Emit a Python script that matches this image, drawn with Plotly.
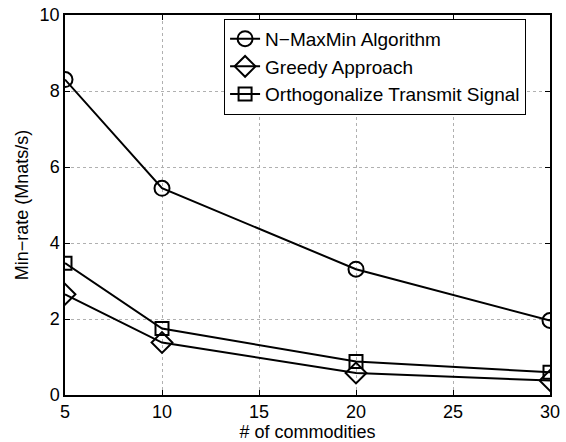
import plotly.graph_objects as go

x_vals = [5, 10, 20, 30]
nmaxmin = [8.30, 5.44, 3.31, 1.96]
greedy = [2.65, 1.38, 0.58, 0.38]
orthogonal = [3.47, 1.75, 0.88, 0.60]
names = ["N\u2212MaxMin Algorithm", "Greedy Approach", "Orthogonalize Transmit Signal"]
x_ticks = [5, 10, 15, 20, 25, 30]
y_ticks = [0, 2, 4, 6, 8, 10]

FONT = "Liberation Sans, Arial, sans-serif"

fig = go.Figure()
for ys, name, sym, sz in [(nmaxmin, names[0], "circle-open", 15),
                          (greedy, names[1], "diamond-open", 16),
                          (orthogonal, names[2], "square-open", 13)]:
    fig.add_trace(go.Scatter(
        x=x_vals, y=ys, name=name, mode="lines+markers",
        line=dict(color="black", width=2),
        marker=dict(symbol=sym, size=sz, color="black", line=dict(width=2, color="black")),
    ))

axis_common = dict(
    showline=True, linecolor="black", linewidth=1.5, mirror="ticks",
    ticks="inside", ticklen=5, tickcolor="black",
    showgrid=True, gridcolor="#b0b0b0", griddash="dot", gridwidth=1,
    zeroline=False, automargin=False,
    tickfont=dict(family=FONT, size=18, color="black"),
)
fig.update_xaxes(range=[5, 30], tickvals=x_ticks,
                 title=dict(text="# of commodities", standoff=0,
                            font=dict(family=FONT, size=18, color="black")),
                 **axis_common)
fig.update_yaxes(range=[0, 10], tickvals=y_ticks,
                 title=dict(text="Min\u2212rate (Mnats/s)", standoff=6,
                            font=dict(family=FONT, size=18, color="black")),
                 **axis_common)

fig.update_layout(
    width=566, height=442,
    margin=dict(l=65, r=16, t=15, b=47),
    plot_bgcolor="white", paper_bgcolor="white",
    legend=dict(x=0.328, y=0.99, xanchor="left", yanchor="top",
                bordercolor="black", borderwidth=1, bgcolor="white",
                font=dict(family=FONT, size=19, color="black"),
                itemwidth=30, tracegroupgap=0),
    showlegend=True,
)
fig.write_html("out.html")
